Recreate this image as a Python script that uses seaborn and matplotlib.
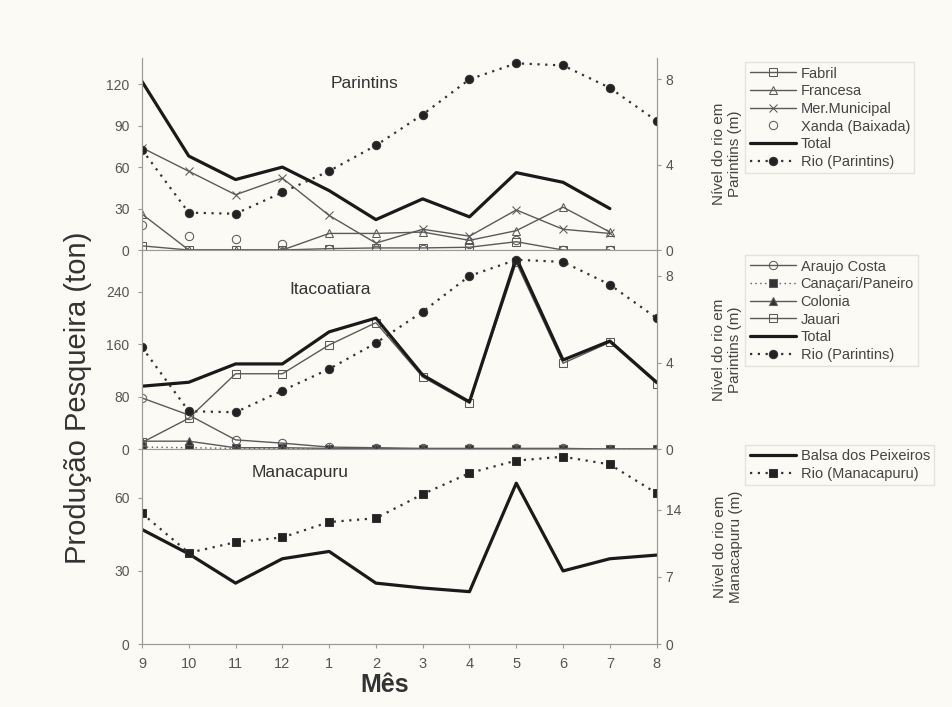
import matplotlib.pyplot as plt
import seaborn as sns
import numpy as np

sns.set_style('ticks')
plt.rcParams['font.family'] = ['Liberation Sans', 'DejaVu Sans']

months = ['9', '10', '11', '12', '1', '2', '3', '4', '5', '6', '7', '8']

# Parintins (ton), series stop at month 7
fabril = [3, 0, 0, 0, 1, 1.5, 1.5, 2, 6, 0, 0]
francesa = [26, 0, 0, 0, 12, 12, 13, 7, 14, 31, 13]
mer_municipal = [74, 57, 40, 52, 25, 5, 15, 10, 29, 15, 12]
xanda = [18, 10, 8, 4, 1, 0, 1, 4, 7, 0, 0]
total_parintins = [122, 68, 51, 60, 43, 22, 37, 24, 56, 49, 30]
rio_parintins = [4.7, 1.75, 1.7, 2.7, 3.7, 4.9, 6.35, 8.0, 8.75, 8.65, 7.6, 6.05]

# Itacoatiara (ton)
araujo_costa = [78, 52, 14, 9, 3, 2, 1, 1, 1, 1, 0, 0]
canacari = [3, 2, 1, 1, 0, 0, 0, 0, 0, 0, 0, 0]
colonia = [12, 12, 2, 2, 1, 1, 0, 0, 0, 0, 0, 0]
jauari = [10, 47, 115, 115, 159, 193, 110, 70, 285, 131, 163, 100]
total_itacoatiara = [96, 102, 130, 130, 179, 200, 113, 72, 292, 136, 165, 102]

# Manacapuru
balsa = [47, 37, 25, 35, 38, 25, 23, 21.5, 66, 30, 35, 36.5]
rio_manacapuru = [13.6, 9.5, 10.6, 11.1, 12.7, 13.1, 15.6, 17.8, 19.1, 19.5, 18.7, 15.7]

bg = '#fbfaf4'
thin = '#5a5a5a'
spine_c = '#9a9a9a'
txt = '#444444'

fig = plt.figure(figsize=(9.53, 7.07), dpi=100)
fig.patch.set_facecolor(bg)
gs = fig.add_gridspec(3, 1, left=0.149, right=0.689, top=0.918, bottom=0.089,
                      hspace=0, height_ratios=[192, 199, 195])
ax1 = fig.add_subplot(gs[0])
ax2 = fig.add_subplot(gs[1], sharex=ax1)
ax3 = fig.add_subplot(gs[2], sharex=ax1)


def line(ax, vals, label, marker=None, lw=1.0, color=thin, ls='-', mfc='none', ms=6):
    x = np.arange(len(vals))
    sns.lineplot(x=x, y=vals, ax=ax, label=label, legend=False, color=color,
                 lw=lw, ls=ls, marker=marker, mfc=mfc, mec=color, ms=ms)


def rio(ax, vals, label, marker):
    line(ax, vals, label, marker=marker, lw=1.6, color='#333333', ls=(0, (1, 2.5)),
         mfc='#222222', ms=6)


# Panel 1 - Parintins
line(ax1, fabril, 'Fabril', marker='s')
line(ax1, francesa, 'Francesa', marker='^')
line(ax1, mer_municipal, 'Mer.Municipal', marker='x')
line(ax1, xanda, 'Xanda (Baixada)', marker='o', ls='')
line(ax1, total_parintins, 'Total', lw=2.3, color='#1a1a1a')
tw1 = ax1.twinx()
rio(tw1, rio_parintins, 'Rio (Parintins)', 'o')

# Panel 2 - Itacoatiara
line(ax2, araujo_costa, 'Araujo Costa', marker='o')
line(ax2, canacari, 'Canaçari/Paneiro', marker='s', ls=(0, (1, 2.5)), mfc='#333333')
line(ax2, colonia, 'Colonia', marker='^', mfc='#333333')
line(ax2, jauari, 'Jauari', marker='s')
line(ax2, total_itacoatiara, 'Total', lw=2.3, color='#1a1a1a')
tw2 = ax2.twinx()
rio(tw2, rio_parintins, 'Rio (Parintins)', 'o')

# Panel 3 - Manacapuru
line(ax3, balsa, 'Balsa dos Peixeiros', lw=2.3, color='#1a1a1a')
tw3 = ax3.twinx()
rio(tw3, rio_manacapuru, 'Rio (Manacapuru)', 's')

ax1.set_ylim(0, 139)
ax1.set_yticks([0, 30, 60, 90, 120])
tw1.set_ylim(0, 9.0)
tw1.set_yticks([0, 4, 8])
ax2.set_ylim(0, 304)
ax2.set_yticks([0, 80, 160, 240])
tw2.set_ylim(0, 9.2)
tw2.set_yticks([0, 4, 8])
ax3.set_ylim(0, 80)
ax3.set_yticks([0, 30, 60])
tw3.set_ylim(0, 20.3)
tw3.set_yticks([0, 7, 14])

ax3.set_xlim(0, 11)
ax3.set_xticks(np.arange(12))
ax3.set_xticklabels(months)

titles = [(ax1, 'Parintins', 0.433, 0.865), (ax2, 'Itacoatiara', 0.365, 0.80),
          (ax3, 'Manacapuru', 0.307, 0.88)]
for ax, t, tx, ty in titles:
    ax.text(tx, ty, t, transform=ax.transAxes, ha='center', va='center',
            fontsize=12.5, color='#333333')

for ax in (ax1, ax2, ax3, tw1, tw2, tw3):
    for s in ax.spines.values():
        s.set_color(spine_c)
        s.set_linewidth(0.8)
    ax.spines['top'].set_visible(False)
    ax.tick_params(colors=spine_c, labelcolor='#555555', labelsize=10, length=3, width=0.8)
    ax.set_xlabel('')
    ax.set_ylabel('')
for ax in (ax1, ax2, ax3):
    ax.set_facecolor(bg)
    ax.tick_params(axis='y', pad=6)
for ax in (ax1, ax2):
    ax.tick_params(axis='x', labelbottom=False, length=0)
ax3.tick_params(axis='x', pad=6, labelsize=10.5)

tw1.set_ylabel('Nível do rio em\nParintins (m)', fontsize=11, color=txt, labelpad=28)
tw2.set_ylabel('Nível do rio em\nParintins (m)', fontsize=11, color=txt, labelpad=28)
tw3.set_ylabel('Nível do rio em\nManacapuru (m)', fontsize=11, color=txt, labelpad=23)

fig.text(0.082, 0.437, 'Produção Pesqueira (ton)', rotation=90, ha='center', va='center',
         fontsize=21, color='#333333')
fig.text(0.404, 0.031, 'Mês', ha='center', va='center', fontsize=18,
         fontweight='bold', color='#333333')

legend_pos = [(ax1, tw1, 0.912), (ax2, tw2, 0.639), (ax3, tw3, 0.371)]
for ax, tw, ly in legend_pos:
    h1, l1 = ax.get_legend_handles_labels()
    h2, l2 = tw.get_legend_handles_labels()
    leg = fig.legend(h1 + h2, l1 + l2, loc='upper left', bbox_to_anchor=(0.782, ly),
                     fontsize=10.5, frameon=True, handlelength=3.2, handletextpad=0.3,
                     labelspacing=0.25, borderpad=0.3, borderaxespad=0, fancybox=False)
    leg.get_frame().set_edgecolor('#dddddd')
    leg.get_frame().set_facecolor(bg)
    for t in leg.get_texts():
        t.set_color(txt)

fig.savefig('out.png', dpi=100, facecolor=bg)
